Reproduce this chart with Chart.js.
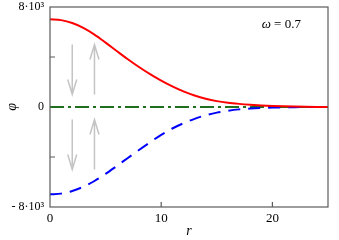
<!DOCTYPE html>
<html>
<head>
<meta charset="utf-8">
<script src="https://cdn.jsdelivr.net/npm/chart.js@4.4.1/dist/chart.umd.min.js"></script>
<style>
  html, body { margin: 0; padding: 0; background: #fff; }
  #wrap { width: 339px; height: 240px; }
</style>
</head>
<body>
<div id="wrap"><canvas id="myChart"></canvas></div>
<script>
const rValues = [0, 1, 2, 3, 4, 5, 6, 7, 8, 9, 10, 11, 12, 13, 14, 15, 16, 17, 18, 19, 20, 21, 22, 23, 24, 25];
const phiUpper = [7020, 6950, 6720, 6330, 5790, 5150, 4480, 3820, 3200, 2630, 2110, 1650, 1250, 920, 660, 470, 340, 250, 180, 125, 85, 55, 32, 16, 6, 0];
const phiLower = [-6990, -6930, -6720, -6380, -5920, -5350, -4720, -4080, -3440, -2820, -2230, -1720, -1300, -950, -660, -450, -300, -190, -120, -75, -45, -25, -12, -5, 0, 0];
const phiZero = rValues.map(() => 0);
const xTickLabels = { '0': '0', '10': '10', '20': '20' };
const yTickLabels = { '8000': '8·10³', '0': '0', '-8000': '- 8·10³' };
const innerTicksY = [-4000, 4000];
const innerTicksX = [10, 20];
// arrows: r position, start value, end value
const arrows = [
  { r: 2, from: 5000, to: 1000 },
  { r: 4, from: 1000, to: 5000 },
  { r: 2, from: -1000, to: -5000 },
  { r: 4, from: -5000, to: -1000 },
];
const omegaLabel = { r: 20.8, phi: 6560, text: '0.7' };

const serif = "'Liberation Serif', 'DejaVu Serif', serif";

const toPoints = (ys) => rValues.map((r, i) => ({ x: r, y: ys[i] }));

const decorPlugin = {
  id: 'decor',
  afterDatasetsDraw(chart) {
    const { ctx, chartArea, scales } = chart;
    const xs = scales.x;
    const ys = scales.y;
    ctx.save();

    // arrows
    ctx.strokeStyle = '#c4c4c4';
    ctx.lineWidth = 1.5;
    arrows.forEach((a) => {
      const px = xs.getPixelForValue(a.r);
      const y0 = ys.getPixelForValue(a.from);
      const y1 = ys.getPixelForValue(a.to);
      const dir = y1 > y0 ? 1 : -1;
      ctx.beginPath();
      ctx.moveTo(px, y0);
      ctx.lineTo(px, y1);
      ctx.moveTo(px - 4.5, y1 - dir * 15);
      ctx.lineTo(px, y1);
      ctx.lineTo(px + 4.5, y1 - dir * 15);
      ctx.stroke();
    });

    // frame
    ctx.strokeStyle = '#5a5a5a';
    ctx.lineWidth = 1.2;
    ctx.strokeRect(chartArea.left, chartArea.top, chartArea.right - chartArea.left, chartArea.bottom - chartArea.top);

    // inner ticks
    ctx.beginPath();
    innerTicksY.forEach((v) => {
      const py = ys.getPixelForValue(v);
      ctx.moveTo(chartArea.left, py);
      ctx.lineTo(chartArea.left + 5, py);
    });
    innerTicksX.forEach((v) => {
      const px = xs.getPixelForValue(v);
      ctx.moveTo(px, chartArea.bottom);
      ctx.lineTo(px, chartArea.bottom - 5);
    });
    ctx.stroke();

    // omega label
    const cx = xs.getPixelForValue(omegaLabel.r);
    const cy = ys.getPixelForValue(omegaLabel.phi);
    ctx.fillStyle = '#000';
    ctx.textBaseline = 'middle';
    ctx.font = 'italic 13px ' + serif;
    const wOmega = ctx.measureText('ω').width;
    ctx.font = '13px ' + serif;
    const rest = ' = ' + omegaLabel.text;
    const wRest = ctx.measureText(rest).width;
    const startX = cx - (wOmega + wRest) / 2;
    ctx.font = 'italic 13px ' + serif;
    ctx.textAlign = 'left';
    ctx.fillText('ω', startX, cy);
    ctx.font = '13px ' + serif;
    ctx.fillText(rest, startX + wOmega, cy);
    ctx.restore();
  },
};

const drawChart = () => {
  const myChart = new Chart(document.getElementById('myChart'), {
    type: 'line',
    data: {
      datasets: [
        {
          label: 'zero',
          data: toPoints(phiZero),
          borderColor: '#1f6f1f',
          borderWidth: 2,
          borderDash: [14, 4, 3, 4],
          pointRadius: 0,
          order: 3,
        },
        {
          label: 'lower',
          data: toPoints(phiLower),
          borderColor: '#0000ff',
          borderWidth: 2,
          borderDash: [12, 8],
          pointRadius: 0,
          cubicInterpolationMode: 'monotone',
          order: 2,
        },
        {
          label: 'upper',
          data: toPoints(phiUpper),
          borderColor: '#ff0000',
          borderWidth: 2,
          pointRadius: 0,
          cubicInterpolationMode: 'monotone',
          order: 1,
        },
      ],
    },
    options: {
      responsive: true,
      maintainAspectRatio: false,
      animation: false,
      layout: { padding: { top: 7, right: 11, left: 0, bottom: 0 } },
      plugins: { legend: { display: false }, tooltip: { enabled: false } },
      scales: {
        x: {
          type: 'linear',
          min: 0,
          max: 25,
          grid: { drawOnChartArea: false, drawTicks: false },
          border: { display: false },
          ticks: {
            stepSize: 5,
            autoSkip: false,
            padding: 4,
            maxRotation: 0,
            color: '#000',
            font: { family: serif, size: 13 },
            callback: (v) => xTickLabels[String(v)] || '',
          },
          title: {
            display: true,
            text: 'r',
            color: '#000',
            padding: { top: 0, bottom: 0 },
            font: { family: serif, size: 14, style: 'italic' },
          },
          afterFit: (scale) => {
            scale.height = 33;
            scale.paddingLeft = 0;
            scale.paddingRight = 0;
          },
        },
        y: {
          min: -8000,
          max: 8000,
          grid: { drawOnChartArea: false, drawTicks: false },
          border: { display: false },
          ticks: {
            stepSize: 4000,
            padding: 6,
            color: '#000',
            font: { family: serif, size: 12, lineHeight: 1.1 },
            callback: (v) => yTickLabels[String(v)] || '',
          },
          title: {
            display: true,
            text: 'φ',
            color: '#000',
            padding: { top: 4, bottom: 0 },
            font: { family: serif, size: 14, style: 'italic' },
          },
          afterFit: (scale) => {
            scale.width = 50;
            scale.paddingTop = 0;
            scale.paddingBottom = 0;
          },
        },
      },
    },
    plugins: [decorPlugin],
  });
};

Promise.all([
  document.fonts.load('13px "Liberation Serif"'),
  document.fonts.load('italic 13px "Liberation Serif"'),
]).catch(() => {}).finally(drawChart);
</script>
</body>
</html>
